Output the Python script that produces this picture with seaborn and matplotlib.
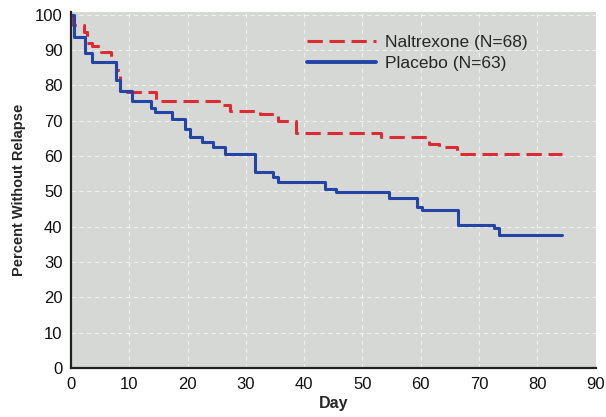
import matplotlib
matplotlib.use("Agg")
import matplotlib.pyplot as plt
import seaborn as sns
import pandas as pd
from matplotlib.lines import Line2D

# Kaplan-Meier step data (day of drop, percent after drop)
nal_days = [0, 0.4, 2.2, 2.7, 3.6, 5.1, 6.8, 7.8, 8.5, 14.6, 25.4, 27.3, 32.4, 35.5, 38.6, 53.2, 61.4, 63.1, 66.2, 84.3]
nal_pct = [100, 97, 95, 92, 91, 89.3, 86.5, 84.3, 78, 75.5, 74.4, 72.8, 71.8, 70, 66.5, 65.3, 63.3, 62.6, 60.7, 60.7]

pla_days = [0, 0.6, 2.4, 3.6, 7.7, 8.5, 10.4, 13.8, 14.5, 17.3, 19.5, 20.5, 22.4, 24.4, 26.4, 31.6, 34.6, 35.5, 43.5, 45.4, 54.6, 59.4, 60.2, 66.4, 72.5, 73.4, 84.2]
pla_pct = [100, 93.5, 89, 86.5, 81.5, 78.3, 75.5, 73.5, 72.5, 70.5, 67.7, 65.3, 64, 62.6, 60.7, 55.6, 54.2, 52.7, 50.8, 49.9, 48, 45.7, 44.8, 40.6, 39.6, 37.8, 37.8]

labels = ["Naltrexone (N=68)", "Placebo (N=63)"]
colors = ["#dd2b36", "#2445a6"]
xticks = list(range(0, 100, 10))
yticks = list(range(0, 110, 10))

df = pd.concat([
    pd.DataFrame({"Day": nal_days, "Pct": nal_pct, "Group": labels[0]}),
    pd.DataFrame({"Day": pla_days, "Pct": pla_pct, "Group": labels[1]}),
])

sns.set_theme(style="white")
plt.rcParams["font.family"] = ["Liberation Sans", "DejaVu Sans"]

fig = plt.figure(figsize=(6.06, 4.17), dpi=100)
ax = fig.add_axes([0.117, 0.117, 0.866, 0.855])
ax.set_facecolor("#d6d8d5")

for lab, col, ls in zip(labels, colors, [(0, (5, 2.2)), "-"]):
    sub = df[df["Group"] == lab]
    sns.lineplot(data=sub, x="Day", y="Pct", ax=ax, color=col, linewidth=2.2,
                 linestyle=ls, drawstyle="steps-post", estimator=None, sort=False,
                 legend=False)

ax.set_xlim(0, 90)
ax.set_ylim(0, 100.8)
ax.set_xticks(xticks)
ax.set_yticks(yticks)
ax.tick_params(axis="both", length=0, labelsize=12, pad=6, colors="#111111")
ax.grid(True, color="white", linestyle=(0, (4, 3)), linewidth=0.8, alpha=0.6)
ax.set_axisbelow(True)
for s in ["top", "right"]:
    ax.spines[s].set_visible(False)
for s in ["left", "bottom"]:
    ax.spines[s].set_color("#222222")
    ax.spines[s].set_linewidth(1.6)

ax.set_xlabel("Day", fontsize=11.5, fontweight="bold", labelpad=3)
ax.set_ylabel("Percent Without Relapse", fontsize=10.5, fontweight="bold", labelpad=6)

handles = [Line2D([0], [0], color=colors[0], lw=2.2, linestyle=(0, (5, 2.2))),
           Line2D([0], [0], color=colors[1], lw=2.8, linestyle="-")]
ax.legend(handles, labels, loc="upper right", bbox_to_anchor=(0.9, 0.98), frameon=False,
          fontsize=12.5, handlelength=4.0, handletextpad=0.5, labelspacing=0.35)

fig.savefig("out.png", dpi=100)
